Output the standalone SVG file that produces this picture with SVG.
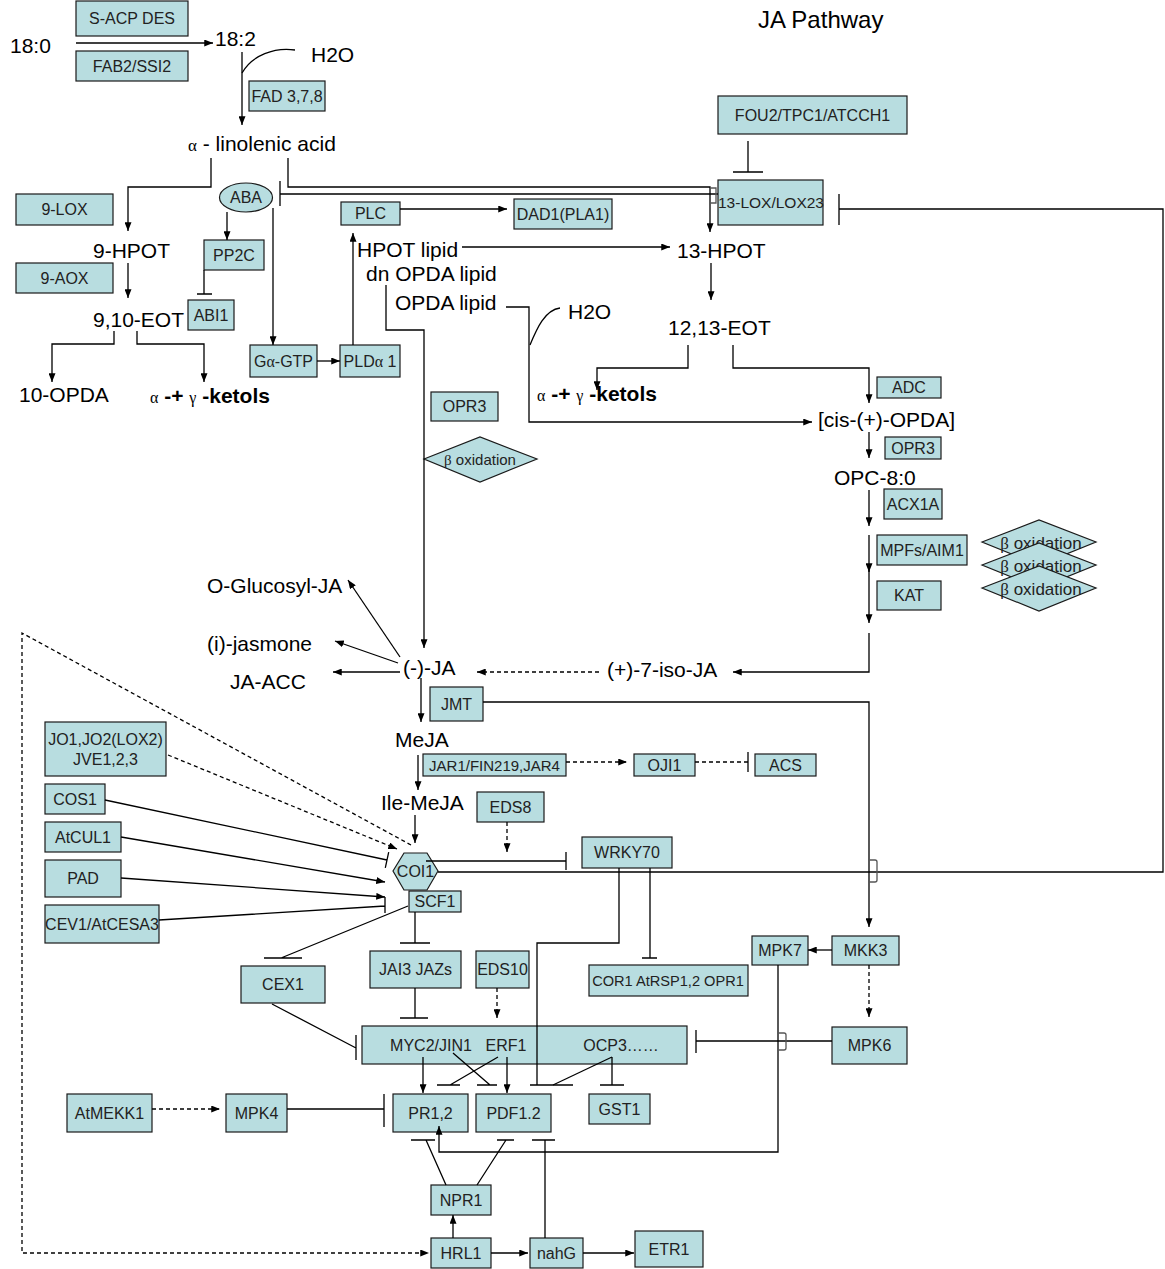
<svg xmlns="http://www.w3.org/2000/svg" width="1165" height="1269" viewBox="0 0 1165 1269">
<defs>
<style>
.b{fill:#b8dde0;stroke:#1a1a1a;stroke-width:1.2}
.t{font-family:"Liberation Sans",Arial,sans-serif;font-size:16px;fill:#222;text-anchor:middle}
.m{font-family:"Liberation Sans",Arial,sans-serif;font-size:21px;fill:#000}
.k{font-weight:bold}
.g{font-family:"Liberation Serif","Times New Roman",serif;font-size:16px}
.l{stroke:#000;stroke-width:1.3;fill:none}
.d{stroke-dasharray:4 3}
.h{stroke:#555;stroke-width:1.3;fill:none}
</style>
<marker id="a" viewBox="0 0 10 8" refX="10" refY="4" markerWidth="9" markerHeight="7" orient="auto" markerUnits="userSpaceOnUse"><path d="M0,0 L10,4 L0,8 z" fill="#000"/></marker>
</defs>
<rect width="1165" height="1269" fill="#fff"/>

<g id="labels">
<text class="m" x="758" y="28" style="font-size:24px">JA Pathway</text>
<text class="m" x="10" y="53">18:0</text>
<text class="m" x="215" y="46">18:2</text>
<text class="m" x="311" y="62">H2O</text>
<text class="m" x="188" y="151"><tspan class="g" style="font-size:17px">α</tspan> - linolenic acid</text>
<text class="m" x="93" y="258">9-HPOT</text>
<text class="m" x="93" y="327">9,10-EOT</text>
<text class="m" x="19" y="402">10-OPDA</text>
<text class="m k" x="150" y="403"><tspan class="g" style="font-weight:normal">α</tspan> -+ <tspan class="g" style="font-weight:normal">γ</tspan> -ketols</text>
<text class="m" x="357" y="257">HPOT lipid</text>
<text class="m" x="366" y="281">dn OPDA lipid</text>
<text class="m" x="395" y="310">OPDA lipid</text>
<text class="m" x="677" y="258">13-HPOT</text>
<text class="m" x="568" y="319">H2O</text>
<text class="m" x="668" y="335">12,13-EOT</text>
<text class="m k" x="537" y="401"><tspan class="g" style="font-weight:normal">α</tspan> -+ <tspan class="g" style="font-weight:normal">γ</tspan> -ketols</text>
<text class="m" x="818" y="427">[cis-(+)-OPDA]</text>
<text class="m" x="834" y="485">OPC-8:0</text>
<text class="m" x="207" y="593">O-Glucosyl-JA</text>
<text class="m" x="207" y="651">(i)-jasmone</text>
<text class="m" x="403" y="675">(-)-JA</text>
<text class="m" x="230" y="689">JA-ACC</text>
<text class="m" x="607" y="677">(+)-7-iso-JA</text>
<text class="m" x="395" y="747">MeJA</text>
<text class="m" x="381" y="810">Ile-MeJA</text>
</g>

<g id="n-sacp"><rect class="b" x="76" y="1" width="112" height="35"/><text class="t" x="132" y="24">S-ACP DES</text></g>
<g id="n-fab2"><rect class="b" x="76" y="51" width="112" height="30"/><text class="t" x="132" y="72">FAB2/SSI2</text></g>
<g id="n-fad"><rect class="b" x="249" y="81" width="76" height="30"/><text class="t" x="287" y="102">FAD 3,7,8</text></g>
<g id="n-fou2"><rect class="b" x="718" y="96" width="189" height="38"/><text class="t" x="812.5" y="121">FOU2/TPC1/ATCCH1</text></g>
<g id="n-lox13"><rect class="b" x="718" y="180" width="105" height="45"/><text class="t" x="771" y="208" style="font-size:15.5px">13-LOX/LOX23</text></g>
<g id="n-lox9"><rect class="b" x="16" y="194" width="97" height="31"/><text class="t" x="64.5" y="215">9-LOX</text></g>
<g id="n-aox9"><rect class="b" x="16" y="263" width="97" height="30"/><text class="t" x="64.5" y="284">9-AOX</text></g>
<g id="n-aba"><ellipse class="b" cx="246" cy="197.5" rx="26.5" ry="14.5"/><text class="t" x="246" y="203">ABA</text></g>
<g id="n-pp2c"><rect class="b" x="204" y="240" width="60" height="30"/><text class="t" x="234" y="261">PP2C</text></g>
<g id="n-abi1"><rect class="b" x="188" y="300" width="46" height="30"/><text class="t" x="211" y="321">ABI1</text></g>
<g id="n-plc"><rect class="b" x="341" y="202" width="59" height="23"/><text class="t" x="370.5" y="219">PLC</text></g>
<g id="n-dad1"><rect class="b" x="514" y="199" width="98" height="30"/><text class="t" x="563" y="220">DAD1(PLA1)</text></g>
<g id="n-galpha"><rect class="b" x="250" y="345" width="67" height="32"/><text class="t" x="283.5" y="367">G<tspan class="g">α</tspan>-GTP</text></g>
<g id="n-pld"><rect class="b" x="340" y="345" width="60" height="32"/><text class="t" x="370" y="367">PLD<tspan class="g">α</tspan> 1</text></g>
<g id="n-opr3m"><rect class="b" x="431" y="392" width="67" height="29"/><text class="t" x="464.5" y="412">OPR3</text></g>
<g id="n-boxm"><polygon class="b" points="424,459 480,437 537,459 480,482"/><text class="t" x="480" y="465" style="font-size:15px"><tspan class="g" style="font-size:15px">β</tspan> oxidation</text></g>
<g id="n-adc"><rect class="b" x="877" y="377" width="64" height="21"/><text class="t" x="909" y="393">ADC</text></g>
<g id="n-opr3r"><rect class="b" x="885" y="437" width="56" height="22"/><text class="t" x="913" y="454">OPR3</text></g>
<g id="n-acx1a"><rect class="b" x="884" y="489" width="58" height="30"/><text class="t" x="913" y="510">ACX1A</text></g>
<g id="n-mpfs"><rect class="b" x="877" y="535" width="90" height="30"/><text class="t" x="922" y="556">MPFs/AIM1</text></g>
<g id="n-kat"><rect class="b" x="877" y="581" width="64" height="29"/><text class="t" x="909" y="601">KAT</text></g>
<g id="n-box1"><polygon class="b" points="982,542 1039,520 1096,542 1039,565"/><text class="t" x="1041" y="549" style="font-size:17px"><tspan class="g" style="font-size:17px">β</tspan> oxidation</text></g>
<g id="n-box2"><polygon class="b" points="982,565 1039,543 1096,565 1039,588"/><text class="t" x="1041" y="572" style="font-size:17px"><tspan class="g" style="font-size:17px">β</tspan> oxidation</text></g>
<g id="n-box3"><polygon class="b" points="982,588 1039,566 1096,588 1039,611"/><text class="t" x="1041" y="595" style="font-size:17px"><tspan class="g" style="font-size:17px">β</tspan> oxidation</text></g>
<g id="n-jmt"><rect class="b" x="430" y="687" width="53" height="34"/><text class="t" x="456.5" y="710">JMT</text></g>
<g id="n-jar1"><rect class="b" x="423" y="754" width="143" height="22"/><text class="t" x="494.5" y="771" style="font-size:15px">JAR1/FIN219,JAR4</text></g>
<g id="n-oji1"><rect class="b" x="634" y="754" width="61" height="22"/><text class="t" x="664.5" y="771">OJI1</text></g>
<g id="n-acs"><rect class="b" x="755" y="754" width="61" height="22"/><text class="t" x="785.5" y="771">ACS</text></g>
<g id="n-eds8"><rect class="b" x="477" y="792" width="67" height="30"/><text class="t" x="510.5" y="813">EDS8</text></g>
<g id="n-jo1"><rect class="b" x="45" y="722" width="121" height="54"/><text class="t" x="105.5" y="745">JO1,JO2(LOX2)</text><text class="t" x="105.5" y="765">JVE1,2,3</text></g>
<g id="n-cos1"><rect class="b" x="45" y="784" width="60" height="30"/><text class="t" x="75" y="805">COS1</text></g>
<g id="n-atcul1"><rect class="b" x="45" y="822" width="76" height="30"/><text class="t" x="83" y="843">AtCUL1</text></g>
<g id="n-pad"><rect class="b" x="45" y="860" width="76" height="37"/><text class="t" x="83" y="884">PAD</text></g>
<g id="n-cev1"><rect class="b" x="45" y="905" width="114" height="38"/><text class="t" x="102" y="930">CEV1/AtCESA3</text></g>
<g id="n-coi1"><polygon class="b" points="393,871 404,853 427,853 438,871 427,890 404,890"/><text class="t" x="415.5" y="877">COI1</text></g>
<g id="n-scf1"><rect class="b" x="409" y="891" width="52" height="21"/><text class="t" x="435" y="907">SCF1</text></g>
<g id="n-wrky70"><rect class="b" x="582" y="837" width="90" height="31"/><text class="t" x="627" y="858">WRKY70</text></g>
<g id="n-cex1"><rect class="b" x="241" y="966" width="84" height="37"/><text class="t" x="283" y="990">CEX1</text></g>
<g id="n-jai3"><rect class="b" x="370" y="951" width="91" height="37"/><text class="t" x="415.5" y="975">JAI3 JAZs</text></g>
<g id="n-eds10"><rect class="b" x="476" y="951" width="53" height="37"/><text class="t" x="502.5" y="975">EDS10</text></g>
<g id="n-cor1"><rect class="b" x="589" y="965" width="159" height="31"/><text class="t" x="668" y="986" style="font-size:14.6px">COR1 AtRSP1,2 OPR1</text></g>
<g id="n-mpk7"><rect class="b" x="752" y="936" width="56" height="29"/><text class="t" x="780" y="956">MPK7</text></g>
<g id="n-mkk3"><rect class="b" x="832" y="936" width="67" height="29"/><text class="t" x="865.5" y="956">MKK3</text></g>
<g id="n-mpk6"><rect class="b" x="832" y="1027" width="75" height="37"/><text class="t" x="869.5" y="1051">MPK6</text></g>
<g id="n-myc2"><rect class="b" x="362" y="1026" width="325" height="38"/><text class="t" x="431" y="1051">MYC2/JIN1</text><text class="t" x="506" y="1051">ERF1</text><text class="t" x="621" y="1051">OCP3……</text></g>
<g id="n-atmekk1"><rect class="b" x="67" y="1094" width="85" height="38"/><text class="t" x="109.5" y="1119">AtMEKK1</text></g>
<g id="n-mpk4"><rect class="b" x="226" y="1094" width="61" height="38"/><text class="t" x="256.5" y="1119">MPK4</text></g>
<g id="n-pr12"><rect class="b" x="393" y="1094" width="75" height="38"/><text class="t" x="430.5" y="1119">PR1,2</text></g>
<g id="n-pdf12"><rect class="b" x="476" y="1094" width="75" height="38"/><text class="t" x="513.5" y="1119">PDF1.2</text></g>
<g id="n-gst1"><rect class="b" x="589" y="1094" width="61" height="30"/><text class="t" x="619.5" y="1115">GST1</text></g>
<g id="n-npr1"><rect class="b" x="431" y="1185" width="60" height="30"/><text class="t" x="461" y="1206">NPR1</text></g>
<g id="n-hrl1"><rect class="b" x="431" y="1238" width="60" height="30"/><text class="t" x="461" y="1259">HRL1</text></g>
<g id="n-nahg"><rect class="b" x="530" y="1238" width="53" height="30"/><text class="t" x="556.5" y="1259">nahG</text></g>
<g id="n-etr1"><rect class="b" x="635" y="1231" width="68" height="36"/><text class="t" x="669" y="1255">ETR1</text></g>

<g id="connectors">
<path class="l" d="M76 43H213" marker-end="url(#a)"/>
<path class="l" d="M295 50C275 47 252 55 242 73"/>
<path class="l" d="M242 52V125" marker-end="url(#a)"/>
<path class="l" d="M211 158V187H128V231" marker-end="url(#a)"/>
<path class="l" d="M288 158V187H710V232" marker-end="url(#a)"/>
<path class="l" d="M280 194H718M280 181V206"/>
<path class="h" d="M710 188H716V203H710"/>
<path class="l" d="M748 141V172M733 172H763"/>
<path class="l" d="M438 872H1163V209H839M839 194V225"/>
<path class="l" d="M227 212V240" marker-end="url(#a)"/>
<path class="l" d="M204 270V294M197 294H212"/>
<path class="l" d="M273 208V345" marker-end="url(#a)"/>
<path class="l" d="M317 361H340" marker-end="url(#a)"/>
<path class="l" d="M353 345V233" marker-end="url(#a)"/>
<path class="l" d="M400 209H507" marker-end="url(#a)"/>
<path class="l" d="M462 247H670" marker-end="url(#a)"/>
<path class="l" d="M386 285V330H424V648" marker-end="url(#a)"/>
<path class="l" d="M506 307H529V422H812" marker-end="url(#a)"/>
<path class="l" d="M560 308C545 310 537 328 530 345"/>
<path class="l" d="M128 263V298" marker-end="url(#a)"/>
<path class="l" d="M114 331V344H52V382" marker-end="url(#a)"/>
<path class="l" d="M137 331V344H204V382" marker-end="url(#a)"/>
<path class="l" d="M711 263V300" marker-end="url(#a)"/>
<path class="l" d="M688 345V368H597V390" marker-end="url(#a)"/>
<path class="l" d="M733 345V368H869V403" marker-end="url(#a)"/>
<path class="l" d="M869 432V458" marker-end="url(#a)"/>
<path class="l" d="M869 490V526" marker-end="url(#a)"/>
<path class="l" d="M869 535V572" marker-end="url(#a)"/>
<path class="l" d="M869 570V623" marker-end="url(#a)"/>
<path class="l" d="M869 633V672H733" marker-end="url(#a)"/>
<path class="l d" d="M599 672H477" marker-end="url(#a)"/>
<path class="l" d="M400 657L348 580" marker-end="url(#a)"/>
<path class="l" d="M398 663L335 641" marker-end="url(#a)"/>
<path class="l" d="M400 672H333" marker-end="url(#a)"/>
<path class="l" d="M421 678V722" marker-end="url(#a)"/>
<path class="l" d="M483 702H869V927" marker-end="url(#a)"/>
<path class="h" d="M869 860H875Q877 860 877 862V880Q877 882 875 882H869"/>
<path class="l" d="M418 755V790" marker-end="url(#a)"/>
<path class="l d" d="M566 762H627" marker-end="url(#a)"/>
<path class="l d" d="M695 762H748"/>
<path class="l" d="M748 752V772"/>
<path class="l d" d="M507 822V852" marker-end="url(#a)"/>
<path class="l" d="M415 815V843" marker-end="url(#a)"/>
<path class="l" d="M426 861H566M566 852V870"/>
<path class="l" d="M619 868V943H537V1085M530 1085H573"/>
<path class="l" d="M650 868V958M642 958H657"/>
<path class="l d" d="M168 755L397 849" marker-end="url(#a)"/>
<path class="l d" d="M411 845L22 633V1253H429" marker-end="url(#a)"/>
<path class="l" d="M105 800L387 860M385.3 867.8L388.7 852.2"/>
<path class="l" d="M121 837L385 882" marker-end="url(#a)"/>
<path class="l" d="M121 878L385 897" marker-end="url(#a)"/>
<path class="l" d="M159 920L385 906M385 897V913"/>
<path class="l" d="M415 912V943M400 943H430"/>
<path class="l" d="M408 906L281 958M264 958H302"/>
<path class="l" d="M272 1004L356 1048M356 1035V1060"/>
<path class="l" d="M415 988V1018M400 1018H428"/>
<path class="l d" d="M497 988V1018" marker-end="url(#a)"/>
<path class="l" d="M832 950H808" marker-end="url(#a)"/>
<path class="l d" d="M869 965V1017" marker-end="url(#a)"/>
<path class="l" d="M832 1041H696M696 1030V1053"/>
<path class="l" d="M778 965V1152H439V1126" marker-end="url(#a)"/>
<path class="h" d="M778 1033H784Q786 1033 786 1035V1048Q786 1050 784 1050H778"/>
<path class="l" d="M423 1057V1093" marker-end="url(#a)"/>
<path class="l" d="M507 1057V1093" marker-end="url(#a)"/>
<path class="l" d="M453 1053L490 1085M477 1085H497"/>
<path class="l" d="M498 1057L450 1085M437 1085H460"/>
<path class="l" d="M612 1057L553 1085"/>
<path class="l" d="M612 1057V1085M600 1085H624"/>
<path class="l d" d="M152 1109H220" marker-end="url(#a)"/>
<path class="l" d="M287 1109H384M384 1094V1127"/>
<path class="l" d="M446 1185L426 1140M411 1140H435"/>
<path class="l" d="M477 1185L506 1140M497 1140H514"/>
<path class="l" d="M545 1238V1140M532 1140H555"/>
<path class="l" d="M453 1238V1215" marker-end="url(#a)"/>
<path class="l" d="M491 1253H528" marker-end="url(#a)"/>
<path class="l" d="M583 1253H634" marker-end="url(#a)"/>
</g>
</svg>
